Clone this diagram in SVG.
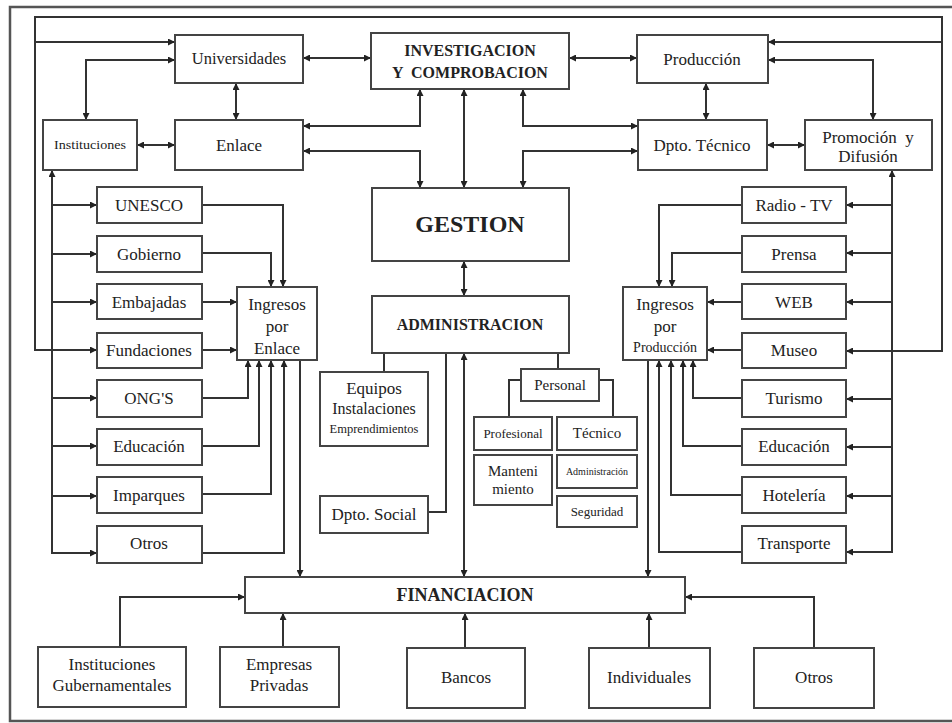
<svg xmlns="http://www.w3.org/2000/svg" width="952" height="723" viewBox="0 0 952 723">
<style>
.b{fill:#fff;stroke:#444;stroke-width:2}
.c{fill:none;stroke:#333;stroke-width:2}
.a{marker-end:url(#ar)}
.d{marker-start:url(#ar);marker-end:url(#ar)}
text{font-family:'Liberation Serif','DejaVu Serif',serif;fill:#222;text-anchor:middle}
.bd{font-weight:bold}
</style>
<defs>
<marker id="ar" viewBox="0 0 10 10" refX="10" refY="5" markerWidth="8" markerHeight="7" markerUnits="userSpaceOnUse" orient="auto-start-reverse"><path d="M0,0 L10,5 L0,10 z" fill="#222"/></marker>
</defs>
<rect width="952" height="723" fill="#fff"/>
<path d="M955,7 H10 V721 H955" fill="none" stroke="#555" stroke-width="2.5"/>

<g id="connectors">
<path class="c d" d="M97,350 H35 V17 H942 V351 H846"/>
<path class="c a" d="M35,42 H175"/>
<path class="c a" d="M942,42 H768"/>
<path class="c d" d="M175,60 H86 V120"/>
<path class="c d" d="M236,83 V120"/>
<path class="c d" d="M137,145 H175"/>
<path class="c d" d="M303,58 H371"/>
<path class="c d" d="M569,58 H637"/>
<path class="c d" d="M303,126 H420 V89"/>
<path class="c d" d="M303,151 H420 V188"/>
<path class="c d" d="M464,89 V188"/>
<path class="c d" d="M523,89 V126 H638"/>
<path class="c d" d="M523,188 V151 H638"/>
<path class="c d" d="M706,83 V120"/>
<path class="c d" d="M767,145 H805"/>
<path class="c d" d="M768,60 H873 V120"/>
<path class="c d" d="M892,170 V552 H846"/>
<path class="c a" d="M892,205 H846"/>
<path class="c a" d="M892,253 H846"/>
<path class="c a" d="M892,302 H846"/>
<path class="c a" d="M892,399 H846"/>
<path class="c a" d="M892,447 H846"/>
<path class="c a" d="M892,496 H846"/>
<path class="c d" d="M52,170 V553 H97"/>
<path class="c a" d="M52,205 H97"/>
<path class="c a" d="M52,254 H97"/>
<path class="c a" d="M52,302 H97"/>
<path class="c a" d="M52,398 H97"/>
<path class="c a" d="M52,446 H97"/>
<path class="c a" d="M52,496 H97"/>
<path class="c a" d="M202,205 H283 V287"/>
<path class="c a" d="M202,253 H271 V287"/>
<path class="c a" d="M202,302 H237"/>
<path class="c a" d="M202,350 H237"/>
<path class="c a" d="M202,398 H248 V360"/>
<path class="c a" d="M202,446 H259 V360"/>
<path class="c a" d="M202,494 H271 V360"/>
<path class="c a" d="M202,553 H284 V360"/>
<path class="c a" d="M300,360 V577"/>
<path class="c a" d="M742,205 H659 V287"/>
<path class="c a" d="M742,253 H672 V287"/>
<path class="c a" d="M742,302 H707"/>
<path class="c a" d="M742,350 H707"/>
<path class="c a" d="M742,398 H693 V360"/>
<path class="c a" d="M742,446 H683 V360"/>
<path class="c a" d="M742,495 H671 V360"/>
<path class="c a" d="M742,552 H659 V360"/>
<path class="c a" d="M648,360 V577"/>
<path class="c d" d="M464,261 V296"/>
<path class="c" d="M384,353 V372"/>
<path class="c" d="M446,353 V512 H428"/>
<path class="c d" d="M464,353 V577"/>
<path class="c" d="M558,353 V369"/>
<path class="c" d="M521,380 H509 V417"/>
<path class="c" d="M599,380 H613 V417"/>
<path class="c a" d="M120,647 V597 H245"/>
<path class="c a" d="M283,647 V613"/>
<path class="c a" d="M465,648 V613"/>
<path class="c a" d="M649,648 V613"/>
<path class="c a" d="M814,648 V597 H685"/>
</g>

<g id="nodes" font-size="17">
<g id="universidades"><rect class="b" x="175" y="35" width="128" height="48"/><text x="239" y="64" font-size="16.5">Universidades</text></g>
<g id="investigacion"><rect class="b" x="371" y="33" width="198" height="56"/><text class="bd" x="470" y="56" font-size="16">INVESTIGACION</text><text class="bd" x="470" y="78" font-size="16" xml:space="preserve">Y  COMPROBACION</text></g>
<g id="produccion"><rect class="b" x="637" y="35" width="131" height="48"/><text x="702" y="65">Producción</text></g>
<g id="instituciones"><rect class="b" x="43" y="120" width="94" height="50"/><text x="90" y="149" font-size="12" textLength="72" lengthAdjust="spacingAndGlyphs">Instituciones</text></g>
<g id="enlace"><rect class="b" x="175" y="120" width="128" height="50"/><text x="239" y="151">Enlace</text></g>
<g id="dpto-tecnico"><rect class="b" x="638" y="120" width="129" height="50"/><text x="702" y="151">Dpto. Técnico</text></g>
<g id="promocion"><rect class="b" x="805" y="120" width="127" height="50"/><text x="868" y="143" xml:space="preserve">Promoción  y</text><text x="868" y="162">Difusión</text></g>
<g id="gestion"><rect class="b" x="372" y="188" width="197" height="73"/><text class="bd" x="470" y="232" font-size="24">GESTION</text></g>
<g id="administracion"><rect class="b" x="372" y="296" width="197" height="57"/><text class="bd" x="470" y="330" font-size="16">ADMINISTRACION</text></g>

<g id="unesco"><rect class="b" x="97" y="187" width="105" height="36"/><text x="149" y="211">UNESCO</text></g>
<g id="gobierno"><rect class="b" x="97" y="236" width="105" height="36"/><text x="149" y="260">Gobierno</text></g>
<g id="embajadas"><rect class="b" x="97" y="284" width="105" height="35"/><text x="149" y="308">Embajadas</text></g>
<g id="fundaciones"><rect class="b" x="97" y="333" width="105" height="35"/><text x="149" y="356">Fundaciones</text></g>
<g id="ongs"><rect class="b" x="97" y="380" width="105" height="37"/><text x="149" y="404">ONG'S</text></g>
<g id="educacion-l"><rect class="b" x="97" y="429" width="105" height="36"/><text x="149" y="452">Educación</text></g>
<g id="imparques"><rect class="b" x="97" y="477" width="105" height="36"/><text x="149" y="501">Imparques</text></g>
<g id="otros-l"><rect class="b" x="97" y="526" width="105" height="37"/><text x="149" y="549">Otros</text></g>
<g id="ingresos-enlace"><rect class="b" x="237" y="287" width="80" height="73"/><text x="277" y="310">Ingresos</text><text x="277" y="332">por</text><text x="277" y="354">Enlace</text></g>

<g id="radio-tv"><rect class="b" x="742" y="187" width="104" height="36"/><text x="794" y="211">Radio - TV</text></g>
<g id="prensa"><rect class="b" x="742" y="236" width="104" height="36"/><text x="794" y="260">Prensa</text></g>
<g id="web"><rect class="b" x="742" y="284" width="104" height="35"/><text x="794" y="308">WEB</text></g>
<g id="museo"><rect class="b" x="742" y="333" width="104" height="35"/><text x="794" y="356">Museo</text></g>
<g id="turismo"><rect class="b" x="742" y="380" width="104" height="37"/><text x="794" y="404">Turismo</text></g>
<g id="educacion-r"><rect class="b" x="742" y="429" width="104" height="36"/><text x="794" y="452">Educación</text></g>
<g id="hoteleria"><rect class="b" x="742" y="477" width="104" height="36"/><text x="794" y="501">Hotelería</text></g>
<g id="transporte"><rect class="b" x="742" y="526" width="104" height="37"/><text x="794" y="549">Transporte</text></g>
<g id="ingresos-produccion"><rect class="b" x="623" y="287" width="84" height="73"/><text x="665" y="310">Ingresos</text><text x="665" y="332">por</text><text x="665" y="352" font-size="14">Producción</text></g>

<g id="equipos"><rect class="b" x="320" y="372" width="108" height="74"/><text x="374" y="394">Equipos</text><text x="374" y="414" font-size="16">Instalaciones</text><text x="374" y="433" font-size="12.5">Emprendimientos</text></g>
<g id="dpto-social"><rect class="b" x="320" y="496" width="108" height="37"/><text x="374" y="520">Dpto. Social</text></g>
<g id="personal"><rect class="b" x="521" y="369" width="78" height="32"/><text x="560" y="390" font-size="15">Personal</text></g>
<g id="profesional"><rect class="b" x="474" y="417" width="78" height="33"/><text x="513" y="438" font-size="13">Profesional</text></g>
<g id="tecnico"><rect class="b" x="557" y="417" width="80" height="33"/><text x="597" y="438" font-size="15">Técnico</text></g>
<g id="mantenimiento"><rect class="b" x="474" y="455" width="78" height="50"/><text x="513" y="476" font-size="15">Manteni</text><text x="513" y="494" font-size="15">miento</text></g>
<g id="administracion-p"><rect class="b" x="557" y="455" width="80" height="33"/><text x="597" y="475" font-size="10">Administración</text></g>
<g id="seguridad"><rect class="b" x="557" y="496" width="80" height="31"/><text x="597" y="516" font-size="13">Seguridad</text></g>

<g id="financiacion"><rect class="b" x="245" y="577" width="440" height="36"/><text class="bd" x="465" y="601" font-size="18">FINANCIACION</text></g>
<g id="inst-gub"><rect class="b" x="38" y="647" width="148" height="60"/><text x="112" y="670">Instituciones</text><text x="112" y="691">Gubernamentales</text></g>
<g id="empresas"><rect class="b" x="220" y="647" width="119" height="60"/><text x="279" y="670">Empresas</text><text x="279" y="691">Privadas</text></g>
<g id="bancos"><rect class="b" x="407" y="648" width="118" height="60"/><text x="466" y="683">Bancos</text></g>
<g id="individuales"><rect class="b" x="589" y="648" width="121" height="60"/><text x="649" y="683">Individuales</text></g>
<g id="otros-b"><rect class="b" x="754" y="648" width="120" height="60"/><text x="814" y="683">Otros</text></g>
</g>
</svg>
